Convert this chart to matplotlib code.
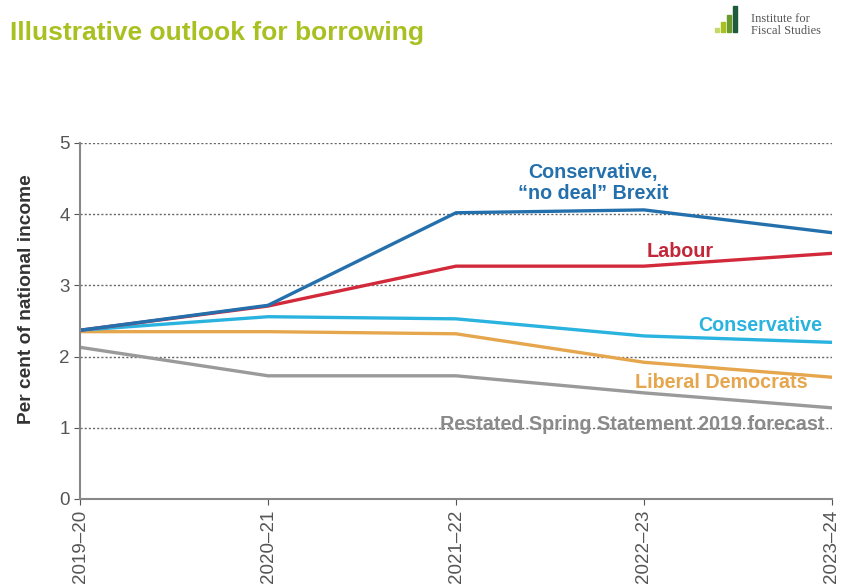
import matplotlib
matplotlib.use("Agg")
import matplotlib.pyplot as plt
from matplotlib.patches import Rectangle

plt.rcParams['font.family'] = ['Liberation Sans', 'DejaVu Sans']

# Data (per cent of national income)
years = ["2019\u201320", "2020\u201321", "2021\u201322", "2022\u201323", "2023\u201324"]
restated = [2.13, 1.73, 1.73, 1.49, 1.28]
lib_dem = [2.35, 2.35, 2.32, 1.92, 1.71]
conservative = [2.37, 2.56, 2.53, 2.29, 2.20]
labour = [2.37, 2.71, 3.27, 3.27, 3.45]
no_deal = [2.37, 2.72, 4.02, 4.06, 3.74]

fig = plt.figure(figsize=(8.45, 5.86), dpi=100)
ax = fig.add_axes([0.0947, 0.1485, 0.8899, 0.6075])

x = list(range(len(years)))
ax.plot(x, restated, color="#9a9a9a", lw=2.4)
ax.plot(x, lib_dem, color="#e6a64e", lw=2.4)
ax.plot(x, conservative, color="#2bb3df", lw=2.4)
ax.plot(x, labour, color="#d2293b", lw=2.4)
ax.plot(x, no_deal, color="#2470ad", lw=2.4)

ax.set_xlim(0, 4)
ax.set_ylim(0, 5)
ax.set_yticks([0, 1, 2, 3, 4, 5])
ax.set_xticks(x)
ax.set_xticklabels(years, rotation=90)
ax.tick_params(colors="#555555", labelsize=13.5, length=4)
ax.tick_params(axis="y", direction="out")
for yv in [1, 2, 3, 4, 5]:
    ax.axhline(yv, color="#666666", lw=1.0, ls=(0, (1.5, 1.5)), zorder=0)
for side in ["top", "right"]:
    ax.spines[side].set_visible(False)
for side in ["left", "bottom"]:
    ax.spines[side].set_color("#888888")
    ax.spines[side].set_linewidth(1.5)
ax.set_ylabel("Per cent of national income", fontsize=13.8, fontweight="bold",
              color="#333333", va="center")
ax.yaxis.set_label_coords(-0.071, 0.56)

lab = dict(fontsize=14.2, fontweight="bold", ha="center", va="center")
ax.text(2.73, 4.44, "Conservative,\n\u201cno deal\u201d Brexit", color="#2470ad",
        linespacing=1.1, **lab)
ax.text(3.19, 3.48, "Labour", color="#c0283a", **lab)
ax.text(3.62, 2.43, "Conservative", color="#2bb3df", **lab)
ax.text(3.41, 1.63, "Liberal Democrats", color="#e6a64e", **lab)
ax.text(2.94, 1.05, "Restated Spring Statement 2019 forecast", color="#8a8a8a", **lab)

fig.text(0.012, 0.944, "Illustrative outlook for borrowing", fontsize=19,
         fontweight="bold", color="#a8c020", va="center")

# IFS logo
bars = [(0.846, 0.945, 0.005, 0.007), (0.853, 0.945, 0.005, 0.017),
        (0.860, 0.945, 0.005, 0.03), (0.867, 0.945, 0.005, 0.044)]
bar_cols = ["#c8d86a", "#a8c020", "#6a9a2a", "#1f5a3a"]
for (bx, by, bw, bh), c in zip(bars, bar_cols):
    fig.patches.append(Rectangle((bx, by), bw, bh, transform=fig.transFigure,
                                 color=c))
fig.text(0.889, 0.957, "Institute for\nFiscal Studies", fontsize=9,
         family="Liberation Serif", color="#555555", va="center",
         linespacing=0.95)

fig.savefig("out.png", dpi=100, facecolor="white")
